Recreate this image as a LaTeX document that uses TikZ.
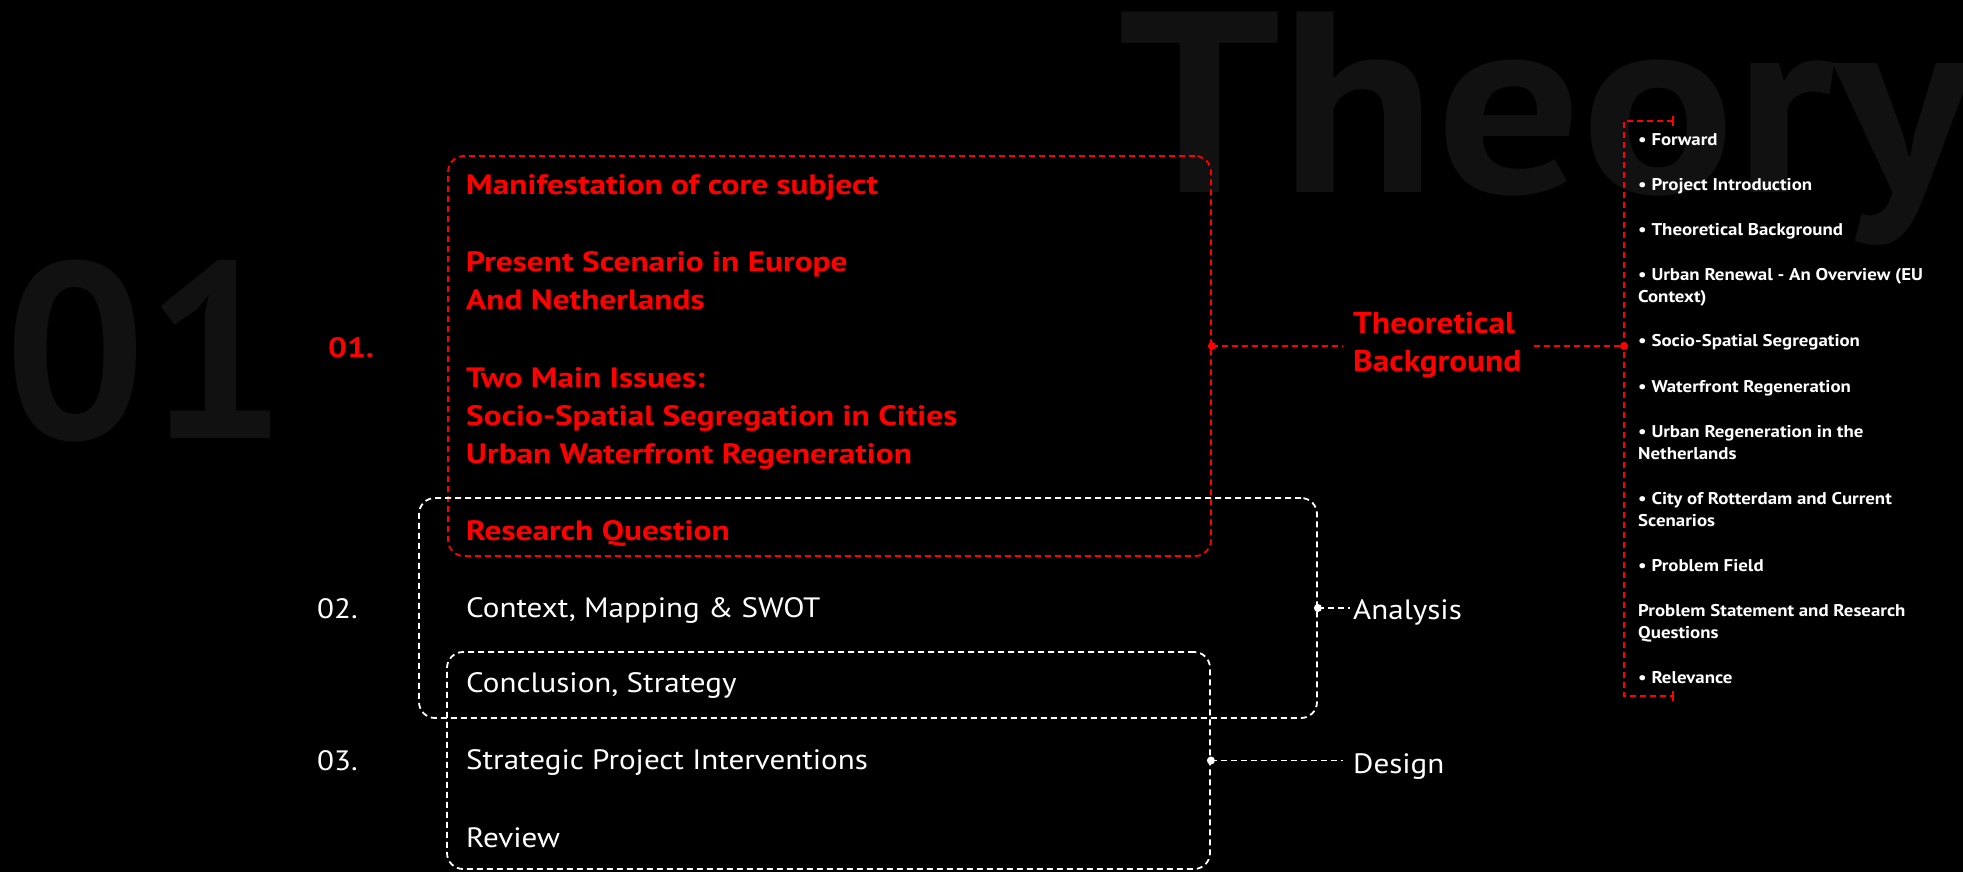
\documentclass[tikz,border=0pt]{standalone}
\usepackage{fontspec}
\setmainfont{PT Sans}[FakeStretch=1.11]
\newfontfamily\redfam{PT Sans}[FakeStretch=1.19]
\newfontfamily\plainfam{PT Sans}
\definecolor{bgtext}{RGB}{17,17,17}
\begin{document}
\begin{tikzpicture}[x=1pt,y=-1pt,
  rdash/.style={draw=red, line width=1.8pt, dash pattern=on 6pt off 4pt},
  wdash/.style={draw=white, line width=1.8pt, dash pattern=on 6pt off 4pt},
  boxshape/.style={rectangle, rounded corners=16pt, inner sep=0pt},
  redtxt/.style={text=red, font=\redfam\bfseries\fontsize{28}{34}\selectfont, anchor=base west, inner sep=0pt},
  whtxt/.style={text=white, font=\fontsize{28}{34}\selectfont, anchor=base west, inner sep=0pt},
  listtxt/.style={text=white, font=\bfseries\fontsize{17}{21}\selectfont, anchor=base west, inner sep=0pt},
  bigtxt/.style={text=bgtext, font=\bfseries\fontsize{258}{260}\selectfont, anchor=base west, inner sep=0pt},
  rdot/.style={fill=red},
  wdot/.style={fill=white}]
\fill[black] (0,0) rectangle (1963,872);
\useasboundingbox (0,0) rectangle (1963,872);
% background words
\node[bigtxt] (theory) at (1118,193) {Theory};
\node[bigtxt, font=\plainfam\bfseries\fontsize{250}{252}\selectfont] (bignum) at (4,438) {01};
% boxes
\node[boxshape, rdash, minimum width=763pt, minimum height=400pt] (rbox) at (829.5,356) {};
\node[boxshape, wdash, minimum width=898pt, minimum height=220pt] (abox) at (868,608) {};
\node[boxshape, wdash, minimum width=763pt, minimum height=217pt] (dbox) at (828.5,760.5) {};
% left numbers
\node[redtxt] (n1) at (328,357) {01.};
\node[whtxt] (n2) at (317,618) {02.};
\node[whtxt] (n3) at (317,770) {03.};
% red texts
\node[redtxt] (r1) at (466,194) {Manifestation of core subject};
\node[redtxt] (r2) at (466,271) {Present Scenario in Europe};
\node[redtxt] (r3) at (466,309) {And Netherlands};
\node[redtxt] (r4) at (466,387) {Two Main Issues:};
\node[redtxt] (r5) at (466,425) {Socio-Spatial Segregation in Cities};
\node[redtxt] (r6) at (466,463) {Urban Waterfront Regeneration};
\node[redtxt] (r7) at (466,540) {Research Question};
% white texts
\node[whtxt] (w1) at (466,617) {Context, Mapping \& SWOT};
\node[whtxt] (w2) at (466,692) {Conclusion, Strategy};
\node[whtxt] (w3) at (466,769) {Strategic Project Interventions};
\node[whtxt] (w4) at (466,847) {Review};
% labels on the right
\node[text=red, font=\bfseries\fontsize{30}{38}\selectfont, align=left, inner sep=0pt, anchor=west] (tb) at (1353,345) {Theoretical\\Background};
\node[whtxt] (an) at (1353,619) {Analysis};
\node[whtxt] (de) at (1353,773) {Design};
% bracket
\coordinate (bj) at (1624,346);
\coordinate (btop) at (1624,121);
\coordinate (bbot) at (1624,696);
\coordinate (btopend) at (1673,121);
\coordinate (bbotend) at (1673,696);
\draw[rdash] (btopend) -- (btop) -- (bbot) -- (bbotend);
\draw[red, line width=1.8pt] ([yshift=-5pt]btopend) -- ([yshift=5pt]btopend);
\draw[red, line width=1.8pt] ([yshift=-5pt]bbotend) -- ([yshift=5pt]bbotend);
% connectors
\draw[rdash] (bj -| rbox.east) -- ([xshift=-10pt]bj -| tb.west);
\draw[rdash] ([xshift=13pt]bj -| tb.east) -- (bj);
\fill[rdot] (bj -| rbox.east) circle (4pt);
\fill[rdot] (bj) circle (4pt);
\coordinate (aj) at (abox.east);
\draw[wdash] (aj) -- ([xshift=-3pt]aj -| an.west);
\fill[wdot] (aj) circle (4pt);
\coordinate (dj) at (dbox.east);
\draw[wdash] (dj) -- ([xshift=-10pt]dj -| de.west);
\fill[wdot] (dj) circle (4pt);
% list
\node[listtxt] (l1) at (1638,146) {\textbullet{} Forward};
\node[listtxt] (l2) at (1638,190) {\textbullet{} Project Introduction};
\node[listtxt] (l3) at (1638,235) {\textbullet{} Theoretical Background};
\node[listtxt] (l4a) at (1638,280) {\textbullet{} Urban Renewal - An Overview (EU};
\node[listtxt] (l4b) at (1638,302) {Context)};
\node[listtxt] (l5) at (1638,346) {\textbullet{} Socio-Spatial Segregation};
\node[listtxt] (l6) at (1638,392) {\textbullet{} Waterfront Regeneration};
\node[listtxt] (l7a) at (1638,437) {\textbullet{} Urban Regeneration in the};
\node[listtxt] (l7b) at (1638,459) {Netherlands};
\node[listtxt] (l8a) at (1638,504) {\textbullet{} City of Rotterdam and Current};
\node[listtxt] (l8b) at (1638,526) {Scenarios};
\node[listtxt] (l9) at (1638,571) {\textbullet{} Problem Field};
\node[listtxt] (l10a) at (1638,616) {Problem Statement and Research};
\node[listtxt] (l10b) at (1638,638) {Questions};
\node[listtxt] (l11) at (1638,683) {\textbullet{} Relevance};
\end{tikzpicture}
\end{document}
